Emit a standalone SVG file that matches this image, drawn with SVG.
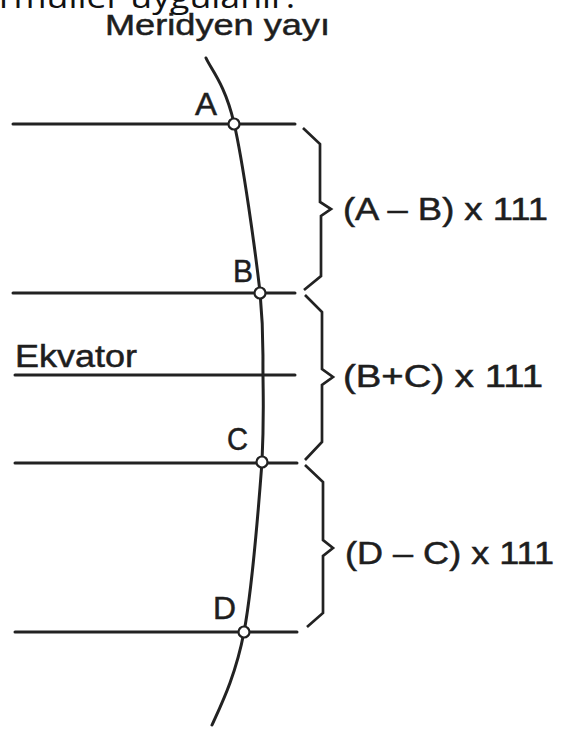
<svg xmlns="http://www.w3.org/2000/svg" width="563" height="729" viewBox="0 0 563 729">
<style>
.t{font-family:"Liberation Sans",Arial,sans-serif;fill:#1e1e1e;stroke:#1e1e1e;stroke-width:0.5}
.lbl{font-size:31px}
.ln{stroke:#222;stroke-width:3;fill:none;stroke-linecap:round}
.br{stroke:#222;stroke-width:2.7;fill:none;stroke-linejoin:miter}
.pt{stroke:#222;stroke-width:2.2;fill:#fff}
</style>
<rect width="563" height="729" fill="#fff"/>
<text x="-1" y="8" font-family="'Open Sans',sans-serif" font-size="31" fill="#111" textLength="296" lengthAdjust="spacingAndGlyphs">rmüller uygulanır.</text>
<g id="title"><text class="t" x="105" y="35" font-size="30" textLength="225" lengthAdjust="spacingAndGlyphs">Meridyen yayı</text></g>
<g id="connectors">
<line class="ln" x1="13" y1="124" x2="295" y2="124"/>
<line class="ln" x1="13" y1="293" x2="295" y2="293"/>
<line class="ln" x1="15" y1="375" x2="295" y2="375" stroke-width="2.6"/>
<line class="ln" x1="15" y1="463" x2="297" y2="463"/>
<line class="ln" x1="15" y1="632" x2="297" y2="632"/>
<path class="ln" stroke-width="2.4" d="M206,58 C210.7,68.8 225,84 234,123 C243,162 255.2,249.8 260,292 C264,334 262.7,347.7 263,376 C263.3,404.3 264,419.3 262,462 C258.8,504.7 252.3,588.2 244,632 C235.7,675.8 221,705 212,725"/>
<path class="br" d="M303,128 L320,144 L320,202 L331,209 L321,216 L321,276 L304,290"/>
<path class="br" d="M305,295 L322,312 L322,369 L333,377 L322,385 L322,442 L305,460"/>
<path class="br" d="M305,465 L323,482 L323,540 L333,548 L323,556 L323,613 L307,627"/>
</g>
<g id="A"><circle class="pt" cx="234" cy="124" r="5.5"/><text class="t lbl" x="195" y="115" textLength="22" lengthAdjust="spacingAndGlyphs">A</text></g>
<g id="B"><circle class="pt" cx="260" cy="293" r="5.5"/><text class="t lbl" x="233" y="282" textLength="20" lengthAdjust="spacingAndGlyphs">B</text></g>
<g id="ekvator"><text class="t lbl" x="15" y="367" textLength="122" lengthAdjust="spacingAndGlyphs">Ekvator</text></g>
<g id="C"><circle class="pt" cx="262" cy="462" r="5.5"/><text class="t lbl" x="227" y="450" textLength="21" lengthAdjust="spacingAndGlyphs">C</text></g>
<g id="D"><circle class="pt" cx="244" cy="632" r="5.5"/><text class="t lbl" x="213" y="619" textLength="23" lengthAdjust="spacingAndGlyphs">D</text></g>
<g id="f1"><text class="t lbl" x="343" y="220" textLength="205" lengthAdjust="spacingAndGlyphs">(A – B) x 111</text></g>
<g id="f2"><text class="t lbl" x="343" y="387" textLength="200" lengthAdjust="spacingAndGlyphs">(B+C) x 111</text></g>
<g id="f3"><text class="t lbl" x="345" y="564" textLength="209" lengthAdjust="spacingAndGlyphs">(D – C) x 111</text></g>
</svg>
